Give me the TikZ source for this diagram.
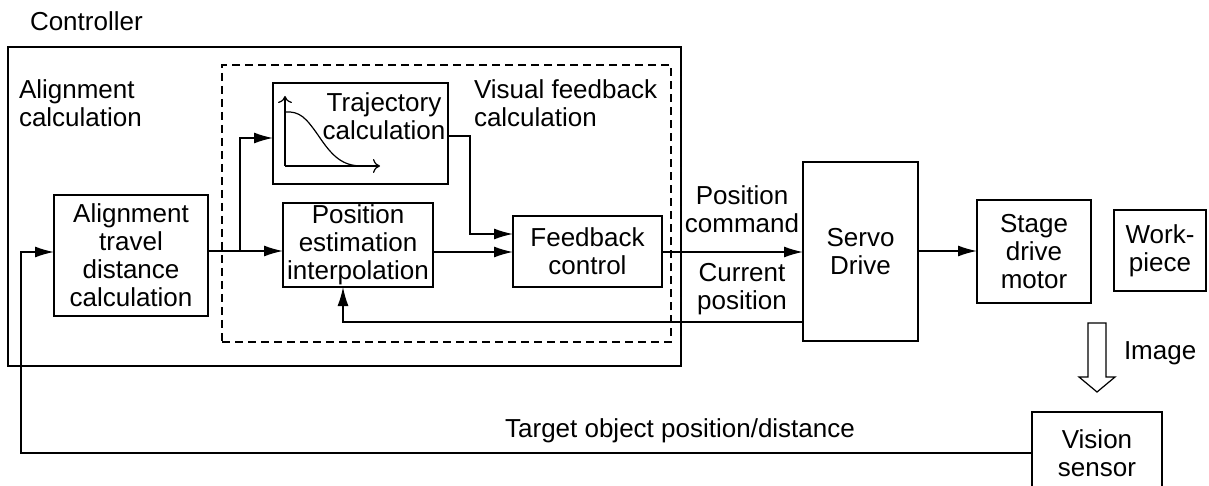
\documentclass[tikz,border=0pt]{standalone}
\usepackage{fontspec}
\setmainfont{Liberation Sans}
\usetikzlibrary{arrows.meta}
\begin{document}
\begin{tikzpicture}[x=1pt,y=-1pt,
  font=\fontsize{26}{28}\selectfont,
  every node/.style={inner sep=0pt, outer sep=0pt},
  block/.style={draw, line width=1.5pt, align=center},
  lbl/.style={align=center},
  conn/.style={line width=1.5pt},
  arr/.style={conn, -{Latex[length=19pt,width=11pt]}},
  plotarr/.style={line width=1.2pt, -{To[length=7pt,width=14pt]}}]
\clip (0,0) rectangle (1209,486);
\fill[white] (0,0) rectangle (1209,486);

% frames
\node (ctrl) [draw, line width=1.5pt, minimum width=673pt, minimum height=319pt] at (344.5,206.5) {};
\node (vfb) [draw, dashed, dash pattern=on 8pt off 5pt, line width=1.5pt, minimum width=449pt, minimum height=277pt] at (446.5,203.5) {};
\node (ctrltxt) [anchor=west] at (30,21) {Controller};
\node (alctxt) [anchor=north west, align=left] at (19,80) {Alignment\\calculation};
\node (vfbtxt) [anchor=north west, align=left] at (474,80) {Visual feedback\\calculation};

% blocks
\node (align) [block, minimum width=154pt, minimum height=121pt] at (131,255.5) {Alignment\\travel\\distance\\calculation};
\node (traj) [draw, line width=1.5pt, minimum width=175pt, minimum height=101pt] at (360.5,133.5) {};
\node (trajtxt) [lbl] at (384,116) {Trajectory\\calculation};
\node (pe) [block, minimum width=150pt, minimum height=84pt] at (358,245) {Position\\estimation\\interpolation};
\node (fb) [block, minimum width=149pt, minimum height=71pt] at (587.5,251.5) {Feedback\\control};
\node (servo) [block, minimum width=115pt, minimum height=179pt] at (860.5,251.5) {Servo\\Drive};
\node (stage) [block, minimum width=114pt, minimum height=103pt] at (1034,251.5) {Stage\\drive\\motor};
\node (work) [block, line width=1.2pt, minimum width=92pt, minimum height=81pt] at (1160,250.5) {Work-\\piece};
\node (vision) [block, minimum width=130pt, minimum height=88pt] at (1097,456) {};
\node (visiontxt) [lbl] at (1097,453) {Vision\\sensor};

% trajectory sketch
\coordinate (org) at (285,166);
\draw[plotarr] (org) -- (285,96);
\draw[plotarr] (org) -- (380,166);
\draw[line width=1.2pt] (285,112) .. controls (300,111) and (306,118) .. (318,135)
  .. controls (332,156) and (342,166) .. (362,166);

% signal paths
\coordinate (br) at (240,251);
\draw[conn] (align.east |- br) -- (br);
\draw[arr] (br) -- (pe.west |- br);
\draw[arr] (br) |- (traj.west |- 0,138);
\coordinate (tk) at (470,136);
\draw[arr] (traj.east |- tk) -- (tk) |- (fb.west |- 0,234);
\draw[arr] (pe.east |- 0,252) -- (fb.west |- 0,252);
\draw[arr] (fb.east |- 0,252) -- (servo.west |- 0,252);
\coordinate (cp) at (343,322);
\draw[arr] (servo.west |- cp) -- (cp) -- (cp |- pe.south);
\draw[arr] (servo.east |- 0,251) -- (stage.west |- 0,251);
\coordinate (lo) at (21,453);
\draw[arr] (vision.west |- lo) -- (lo) |- (align.west |- 0,252);

% labels on paths
\node (pcmd) [lbl] at (742,209) {Position\\command};
\node (cpos) [lbl] at (742,289) {Current\\position};
\node (tgt) [anchor=base] at (680,437) {Target object position/distance};

% image transfer arrow
\draw[line width=1.2pt, fill=white] (1088,323) -- (1106,323) -- (1106,377) -- (1115,377)
  -- (1097,392) -- (1079,377) -- (1088,377) -- cycle;
\node (imgtxt) [anchor=west] at (1124,353) {Image};
\end{tikzpicture}
\end{document}
